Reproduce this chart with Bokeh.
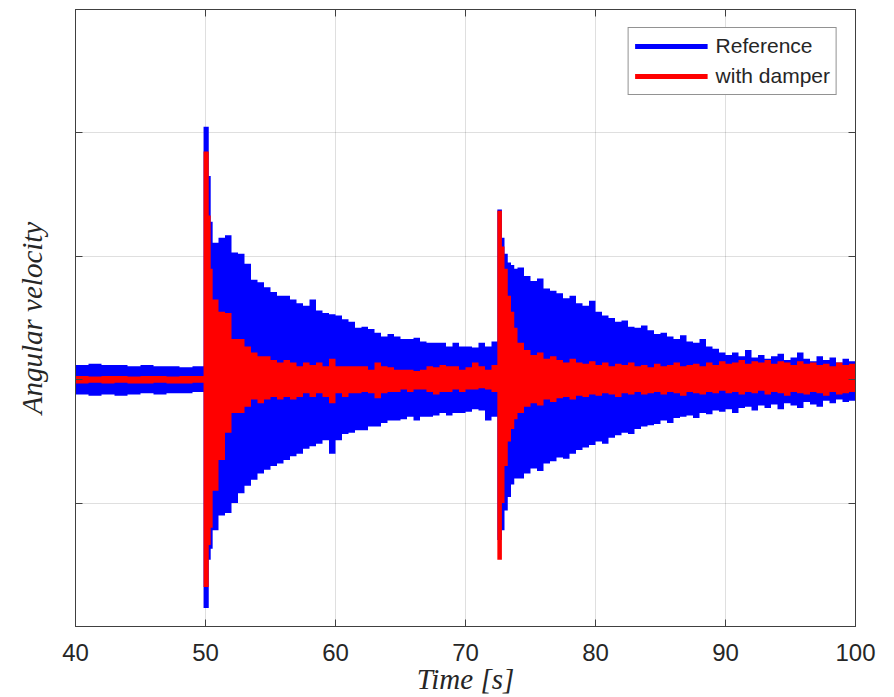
import numpy as np
from bokeh.plotting import figure
from bokeh.models import Range1d, FixedTicker, LinearAxis, Legend, LegendItem, ColumnDataSource
from bokeh.embed import file_html
from bokeh.resources import INLINE

# ---------------- data (envelopes of the oscillating signals) ----------------
T_PRE = [40, 41, 42, 43, 44, 45, 46, 47, 48, 49]
T_SPIKE1 = [49.85, 50.25, 50.4, 50.55, 51.0]
T_DECAY1 = [51.5 + 0.5 * i for i in range(42)]          # 51.5 ... 72.0
T_SPIKE2 = [72.45, 72.8, 73.0, 73.25, 73.5, 73.75]
T_DECAY2 = [74.0 + 0.5 * i for i in range(52)] + [100.0]  # 74.0 ... 99.5, 100
TIME = T_PRE + T_SPIKE1 + T_DECAY1 + T_SPIKE2 + T_DECAY2

REF_UPPER = (
    [0.12, 0.13, 0.12, 0.12, 0.11, 0.12, 0.11, 0.11, 0.10, 0.11]
    + [2.05, 1.65, 1.28, 1.11, 1.15]
    + [1.17, 1.03, 1.02, 0.94, 0.81, 0.79, 0.75, 0.71, 0.68, 0.68,
       0.65, 0.62, 0.60, 0.65, 0.56, 0.54, 0.53, 0.52, 0.49, 0.47,
       0.42, 0.43, 0.41, 0.38, 0.35, 0.37, 0.35, 0.33, 0.33, 0.34,
       0.31, 0.30, 0.30, 0.30, 0.27, 0.30, 0.27, 0.27, 0.26, 0.30,
       0.27, 0.31]
    + [1.38, 1.15, 1.02, 0.95, 0.93, 0.90]
    + [0.91, 0.84, 0.80, 0.82, 0.74, 0.72, 0.70, 0.66, 0.68, 0.62,
       0.60, 0.64, 0.55, 0.52, 0.50, 0.47, 0.48, 0.43, 0.42, 0.44,
       0.40, 0.37, 0.38, 0.35, 0.33, 0.36, 0.31, 0.30, 0.33, 0.27,
       0.25, 0.22, 0.20, 0.22, 0.19, 0.24, 0.18, 0.20, 0.17, 0.19,
       0.21, 0.16, 0.18, 0.22, 0.17, 0.15, 0.19, 0.16, 0.18, 0.14,
       0.17, 0.15, 0.15]
)
REF_LOWER = (
    [-0.12, -0.13, -0.12, -0.13, -0.12, -0.11, -0.12, -0.11, -0.11, -0.10]
    + [-1.85, -1.46, -1.37, -1.22, -1.10]
    + [-1.08, -1.00, -0.92, -0.86, -0.81, -0.76, -0.73, -0.70, -0.68, -0.65,
       -0.62, -0.60, -0.56, -0.54, -0.52, -0.49, -0.60, -0.49, -0.44, -0.43,
       -0.41, -0.41, -0.38, -0.38, -0.35, -0.33, -0.33, -0.32, -0.30, -0.33,
       -0.30, -0.30, -0.29, -0.27, -0.29, -0.27, -0.27, -0.26, -0.24, -0.25,
       -0.33, -0.30]
    + [-1.30, -1.22, -1.06, -0.95, -0.85, -0.80]
    + [-0.80, -0.76, -0.72, -0.74, -0.68, -0.66, -0.63, -0.64, -0.60, -0.57,
       -0.55, -0.53, -0.50, -0.52, -0.47, -0.45, -0.43, -0.44, -0.40, -0.38,
       -0.37, -0.36, -0.33, -0.35, -0.31, -0.30, -0.29, -0.31, -0.27, -0.28,
       -0.25, -0.26, -0.24, -0.27, -0.23, -0.22, -0.25, -0.21, -0.23, -0.20,
       -0.24, -0.19, -0.21, -0.23, -0.18, -0.20, -0.22, -0.17, -0.19, -0.16,
       -0.18, -0.17, -0.16]
)
DAMP_UPPER = (
    [0.03, 0.025, 0.03, 0.03, 0.025, 0.03, 0.03, 0.025, 0.03, 0.03]
    + [1.85, 1.33, 0.90, 0.65, 0.55]
    + [0.54, 0.33, 0.33, 0.27, 0.22, 0.19, 0.19, 0.16, 0.14, 0.16,
       0.14, 0.11, 0.14, 0.12, 0.14, 0.11, 0.17, 0.11, 0.11, 0.11,
       0.11, 0.11, 0.08, 0.14, 0.11, 0.10, 0.08, 0.08, 0.08, 0.07,
       0.08, 0.11, 0.10, 0.12, 0.11, 0.11, 0.08, 0.10, 0.14, 0.11,
       0.08, 0.12]
    + [1.37, 1.08, 0.90, 0.68, 0.55, 0.42]
    + [0.30, 0.24, 0.20, 0.22, 0.17, 0.19, 0.16, 0.14, 0.17, 0.14,
       0.13, 0.15, 0.12, 0.14, 0.11, 0.13, 0.12, 0.14, 0.11, 0.12,
       0.10, 0.13, 0.11, 0.12, 0.14, 0.11, 0.12, 0.13, 0.11, 0.14,
       0.12, 0.15, 0.13, 0.14, 0.16, 0.13, 0.15, 0.14, 0.16, 0.13,
       0.15, 0.14, 0.12, 0.15, 0.13, 0.14, 0.12, 0.13, 0.11, 0.14,
       0.12, 0.13, 0.12]
)
DAMP_LOWER = (
    [-0.03, -0.025, -0.03, -0.025, -0.03, -0.03, -0.025, -0.03, -0.03, -0.025]
    + [-1.68, -1.34, -1.20, -0.90, -0.65]
    + [-0.43, -0.27, -0.27, -0.22, -0.16, -0.19, -0.16, -0.14, -0.16, -0.14,
       -0.16, -0.14, -0.11, -0.14, -0.11, -0.14, -0.19, -0.11, -0.14, -0.11,
       -0.11, -0.10, -0.11, -0.15, -0.11, -0.10, -0.10, -0.08, -0.10, -0.08,
       -0.08, -0.10, -0.12, -0.10, -0.10, -0.08, -0.10, -0.08, -0.08, -0.07,
       -0.08, -0.10]
    + [-1.46, -1.00, -0.70, -0.50, -0.40, -0.32]
    + [-0.27, -0.22, -0.19, -0.21, -0.16, -0.18, -0.15, -0.14, -0.16, -0.13,
       -0.14, -0.12, -0.13, -0.11, -0.12, -0.14, -0.11, -0.12, -0.10, -0.12,
       -0.11, -0.10, -0.12, -0.10, -0.11, -0.13, -0.10, -0.11, -0.12, -0.10,
       -0.11, -0.09, -0.11, -0.10, -0.12, -0.10, -0.11, -0.09, -0.12, -0.10,
       -0.11, -0.13, -0.10, -0.11, -0.12, -0.10, -0.11, -0.13, -0.10, -0.12,
       -0.11, -0.10, -0.11]
)

X_TICKS = [40, 50, 60, 70, 80, 90, 100]
Y_TICKS = [-2, -1, 0, 1, 2, 3]
SERIES_LABELS = ["Reference", "with damper"]

# ---------------- figure ----------------
AX_COLOR = "#404040"
TXT_COLOR = "#262626"

p = figure(width=894, height=697, x_range=Range1d(40, 100), y_range=Range1d(-2, 3),
           output_backend="svg", toolbar_location=None,
           min_border_left=75, min_border_right=39, min_border_top=9, min_border_bottom=71)
p.background_fill_color = "white"
p.border_fill_color = "white"
p.outline_line_color = AX_COLOR
p.outline_line_width = 1

src = ColumnDataSource(dict(t=TIME, ru=REF_UPPER, rl=REF_LOWER, du=DAMP_UPPER, dl=DAMP_LOWER))
p.varea_step(x="t", y1="rl", y2="ru", step_mode="after", source=src, fill_color="#0000ff")
p.varea_step(x="t", y1="dl", y2="du", step_mode="after", source=src, fill_color="#ff0000")

# legend proxies (a single NaN point: nothing drawn in the plot area)
nan_src = ColumnDataSource(dict(x=[float("nan")], y=[float("nan")]))
blue_leg = p.line(x="x", y="y", source=nan_src, line_color="#0000ff", line_width=5)
red_leg = p.line(x="x", y="y", source=nan_src, line_color="#ff0000", line_width=5)
legend = Legend(items=[LegendItem(label=SERIES_LABELS[0], renderers=[blue_leg]),
                       LegendItem(label=SERIES_LABELS[1], renderers=[red_leg])],
                location="top_right", margin=18, padding=6, spacing=6,
                glyph_width=73, glyph_height=24, label_height=24, label_standoff=8,
                label_text_font="Liberation Sans", label_text_font_size="21px",
                label_text_color=TXT_COLOR, border_line_color=TXT_COLOR, border_line_width=1,
                background_fill_color="white", background_fill_alpha=1.0)
p.add_layout(legend)

# axes
xa = p.xaxis[0]
xa.ticker = FixedTicker(ticks=X_TICKS)
xa.major_label_text_font = "Liberation Sans"
xa.major_label_text_font_size = "24px"
xa.major_label_text_color = TXT_COLOR
xa.major_label_standoff = 17
xa.axis_label = "Time [s]"
xa.axis_label_text_font = "Liberation Serif"
xa.axis_label_text_font_style = "italic"
xa.axis_label_text_font_size = "29px"
xa.axis_label_text_color = TXT_COLOR
xa.axis_label_standoff = -1

ya = p.yaxis[0]
ya.ticker = FixedTicker(ticks=Y_TICKS)
ya.major_label_overrides = {t: "" for t in Y_TICKS}
ya.axis_label = "Angular velocity"
ya.axis_label_text_font = "Liberation Serif"
ya.axis_label_text_font_style = "italic"
ya.axis_label_text_font_size = "29px"
ya.axis_label_text_color = TXT_COLOR
ya.axis_label_standoff = 28

for ax in (xa, ya):
    ax.major_tick_in = 7
    ax.major_tick_out = 0
    ax.minor_tick_line_color = None
    ax.axis_line_color = AX_COLOR
    ax.major_tick_line_color = AX_COLOR

# box ticks on top and right
top_ax = LinearAxis(ticker=FixedTicker(ticks=X_TICKS), major_label_overrides={t: "" for t in X_TICKS})
right_ax = LinearAxis(ticker=FixedTicker(ticks=Y_TICKS), major_label_overrides={t: "" for t in Y_TICKS})
for ax in (top_ax, right_ax):
    ax.major_tick_in = 7
    ax.major_tick_out = 0
    ax.major_label_standoff = 0
    ax.minor_tick_line_color = None
    ax.axis_line_color = AX_COLOR
    ax.major_tick_line_color = AX_COLOR
p.add_layout(top_ax, "above")
p.add_layout(right_ax, "right")

p.xgrid.ticker = FixedTicker(ticks=X_TICKS)
p.ygrid.ticker = FixedTicker(ticks=Y_TICKS)
for g in (p.xgrid, p.ygrid):
    g.grid_line_color = "#262626"
    g.grid_line_alpha = 0.15
    g.grid_line_width = 1

open("out.html", "w").write(file_html(p, INLINE))
